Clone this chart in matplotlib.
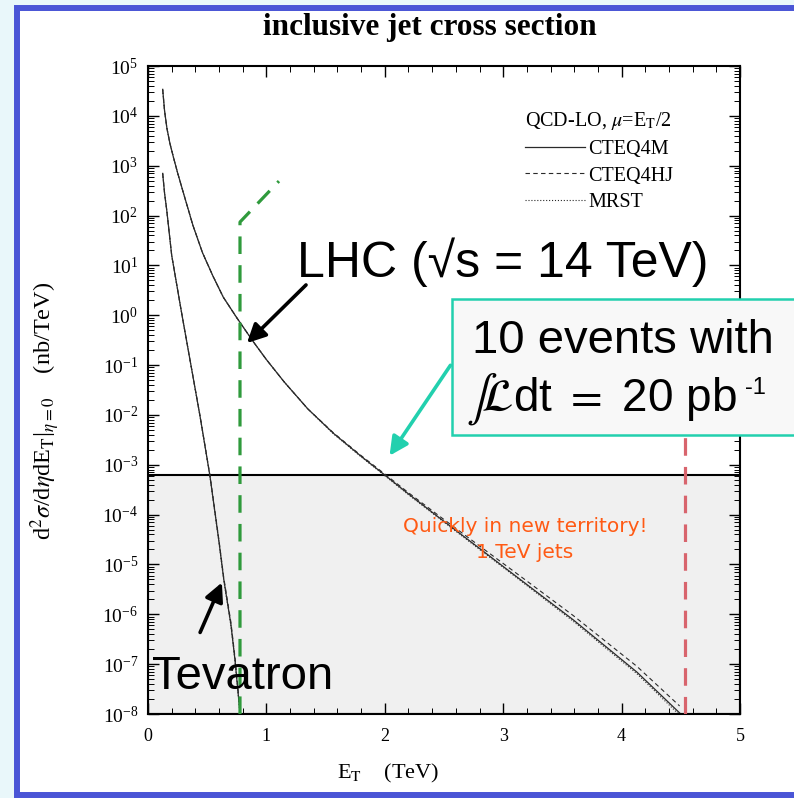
import matplotlib
matplotlib.use("Agg")
import matplotlib.pyplot as plt
from matplotlib.patches import Rectangle
import numpy as np

plt.rcParams["font.family"] = ["Liberation Serif", "DejaVu Serif"]
plt.rcParams["mathtext.fontset"] = "stix"

# LHC (14 TeV) curves, ET in TeV, cross section in nb/TeV
lhc_et = [0.124, 0.14, 0.16, 0.185, 0.214, 0.25, 0.298, 0.38, 0.46, 0.55, 0.636, 0.75,
          0.889, 1.0, 1.15, 1.35, 1.565, 1.8, 1.99, 2.2, 2.47, 2.8, 3.11, 3.59, 4.13, 4.49]
lhc_cteq4m = [3.4e4, 1.26e4, 5.6e3, 2.8e3, 1.5e3, 7.2e2, 2.9e2, 6.3e1, 1.8e1, 6.0e0, 2.3e0,
              8.9e-1, 2.95e-1, 1.29e-1, 4.6e-2, 1.32e-2, 4.3e-3, 1.48e-3, 6.5e-4, 2.6e-4,
              8.3e-5, 2.1e-5, 5.75e-6, 7.8e-7, 6.9e-8, 1.05e-8]
lhc_cteq4hj = [3.4e4, 1.26e4, 5.6e3, 2.8e3, 1.5e3, 7.2e2, 2.9e2, 6.3e1, 1.8e1, 6.0e0, 2.3e0,
               8.9e-1, 2.95e-1, 1.29e-1, 4.6e-2, 1.32e-2, 4.4e-3, 1.53e-3, 6.8e-4, 2.75e-4,
               9.0e-5, 2.35e-5, 6.7e-6, 9.5e-7, 9.0e-8, 1.45e-8]
lhc_mrst = [3.3e4, 1.24e4, 5.5e3, 2.8e3, 1.5e3, 7.1e2, 2.9e2, 6.2e1, 1.8e1, 6.0e0, 2.3e0,
            8.8e-1, 2.95e-1, 1.28e-1, 4.6e-2, 1.31e-2, 4.2e-3, 1.44e-3, 6.3e-4, 2.5e-4,
            8.0e-5, 2.0e-5, 5.5e-6, 7.3e-7, 6.4e-8, 9.5e-9]

# Tevatron curves
tev_et = [0.124, 0.14, 0.158, 0.2, 0.28, 0.355, 0.44, 0.524, 0.6, 0.64, 0.7, 0.735, 0.777]
tev_cteq4m = [7.0e2, 2.8e2, 1.3e2, 1.6e1, 1.26e0, 1.26e-1, 9.3e-3, 5.8e-4, 2.8e-5,
              5.0e-6, 6.3e-7, 1.2e-7, 1.05e-8]
tev_cteq4hj = [7.0e2, 2.8e2, 1.3e2, 1.6e1, 1.26e0, 1.26e-1, 9.5e-3, 6.0e-4, 3.0e-5,
               5.4e-6, 7.0e-7, 1.35e-7, 1.2e-8]
tev_mrst = [6.9e2, 2.8e2, 1.3e2, 1.6e1, 1.25e0, 1.24e-1, 9.1e-3, 5.6e-4, 2.7e-5,
            4.8e-6, 6.0e-7, 1.15e-7, 1.0e-8]

# hand-drawn markers on the slide
green_et = [0.777, 0.777, 1.106]
green_xs = [1e-8, 74, 490]
red_et = [4.535, 4.535]
red_xs = [1e-8, 2e-2]
reach_xs = 6.1e-4   # 10 events with 20 pb^-1

W, H = 794, 798


def fpos(px, py):
    return (px / W, 1 - py / H)


fig = plt.figure(figsize=(W / 100, H / 100), dpi=100)
fig.patch.set_facecolor("#e9f7fa")
fig.add_artist(Rectangle(fpos(17, 795), (W + 20 - 17) / W, (795 - 7.5) / H,
                         transform=fig.transFigure, facecolor="white",
                         edgecolor="#4a55d6", lw=4.3, zorder=-5))

ax = fig.add_axes([148 / W, 1 - 714 / H, (740 - 148) / W, (714 - 66) / H])
ax.set_yscale("log")
ax.set_xlim(0, 5)
ax.set_ylim(1e-8, 1e5)

ax.axhspan(1e-8, reach_xs, facecolor="#f0f0f0", edgecolor="k", lw=1.5, zorder=0)

curve_col = "#2a2a2a"
ax.plot(lhc_et, lhc_cteq4m, "-", color=curve_col, lw=0.9, label="CTEQ4M")
ax.plot(lhc_et, lhc_cteq4hj, "--", color=curve_col, lw=0.8, dashes=(4, 3), label="CTEQ4HJ")
ax.plot(lhc_et, lhc_mrst, ":", color=curve_col, lw=0.8, label="MRST")
ax.plot(tev_et, tev_cteq4m, "-", color=curve_col, lw=0.9)
ax.plot(tev_et, tev_cteq4hj, "--", color=curve_col, lw=0.8, dashes=(4, 3))
ax.plot(tev_et, tev_mrst, ":", color=curve_col, lw=0.8)

ax.plot(green_et, green_xs, color="#2f9a3c", lw=2.3, linestyle=(0, (5.5, 3.5)), zorder=3)
ax.plot(red_et, red_xs, color="#d8646d", lw=2.3, linestyle=(0, (5.5, 3.5)), zorder=3)

ax.set_xticks([0, 1, 2, 3, 4, 5])
ax.set_xticks(np.arange(0, 5.01, 0.2), minor=True)
ax.set_yticks([10.0 ** k for k in range(-8, 6)])
ax.yaxis.set_minor_locator(matplotlib.ticker.LogLocator(base=10, subs=np.arange(2, 10), numticks=20))
ax.yaxis.set_minor_formatter(matplotlib.ticker.NullFormatter())
ax.tick_params(which="both", direction="in", top=True, right=True)
ax.tick_params(which="major", length=8, width=1.0)
ax.tick_params(which="minor", length=4, width=0.7)
ax.tick_params(axis="x", pad=10, labelsize=13)
ax.tick_params(axis="y", pad=7, labelsize=14)
for s in ax.spines.values():
    s.set_linewidth(1.5)

leg = ax.legend(loc="upper right", bbox_to_anchor=(0.918, 0.96), frameon=False,
                fontsize=14.5, handlelength=3.0, handletextpad=0.15, labelspacing=0.38,
                title=r"QCD-LO, $\mu$=E$_\mathrm{T}$/2", title_fontsize=14.5,
                alignment="left")

fig.text(*fpos(430, 27), "inclusive jet cross section", ha="center", va="center",
         fontsize=22.5, fontweight="bold")
fig.text(*fpos(45, 411), r"d$^2\sigma$/d$\eta$dE$_\mathrm{T}$|$_{\eta=0}$    (nb/TeV)",
         rotation=90, ha="center", va="center", fontsize=17.5)
fig.text(*fpos(388, 773), r"E$_\mathrm{T}$    (TeV)", ha="center", va="center", fontsize=16)

sans = ["Liberation Sans", "DejaVu Sans"]
ax.annotate("", xy=fpos(245, 345), xytext=fpos(308, 283), xycoords="figure fraction",
            arrowprops=dict(arrowstyle="-|>", color="k", lw=2.6, mutation_scale=28))
fig.text(*fpos(297, 262), "LHC (\u221as = 14 TeV)", ha="left", va="center",
         fontsize=36, family=sans)

fig.text(*fpos(152, 677), "Tevatron", ha="left", va="center", fontsize=34, family=sans)
ax.annotate("", xy=fpos(223, 580), xytext=fpos(199, 635), xycoords="figure fraction",
            arrowprops=dict(arrowstyle="-|>", color="k", lw=2.6, mutation_scale=28))

fig.add_artist(Rectangle(fpos(452, 435), (800 - 452) / W, (435 - 299) / H,
                         transform=fig.transFigure, facecolor="#f8f8f8",
                         edgecolor="#22d0ae", lw=1.8, zorder=4))
fig.text(*fpos(472, 341), "10 events with", ha="left", va="center", fontsize=34,
         family=sans, zorder=5)
fig.text(*fpos(466, 399), r"$\int\!\mathcal{L}$dt $=$ 20 pb", ha="left",
         va="center", fontsize=33, family=sans, zorder=5)
fig.text(*fpos(745, 388), "-1", ha="left", va="center", fontsize=17,
         family=sans, zorder=5)
ax.annotate("", xy=fpos(388, 458), xytext=fpos(452, 363), xycoords="figure fraction",
            arrowprops=dict(arrowstyle="-|>", color="#22d0ae", lw=2.6, mutation_scale=28),
            zorder=5)

fig.text(*fpos(525, 527), "Quickly in new territory!", ha="center", va="center",
         fontsize=14.5, color="#ff5a14", family=["DejaVu Sans"])
fig.text(*fpos(525, 552), "1 TeV jets", ha="center", va="center",
         fontsize=14.5, color="#ff5a14", family=["DejaVu Sans"])

fig.savefig("out.png", dpi=100, facecolor=fig.get_facecolor())
